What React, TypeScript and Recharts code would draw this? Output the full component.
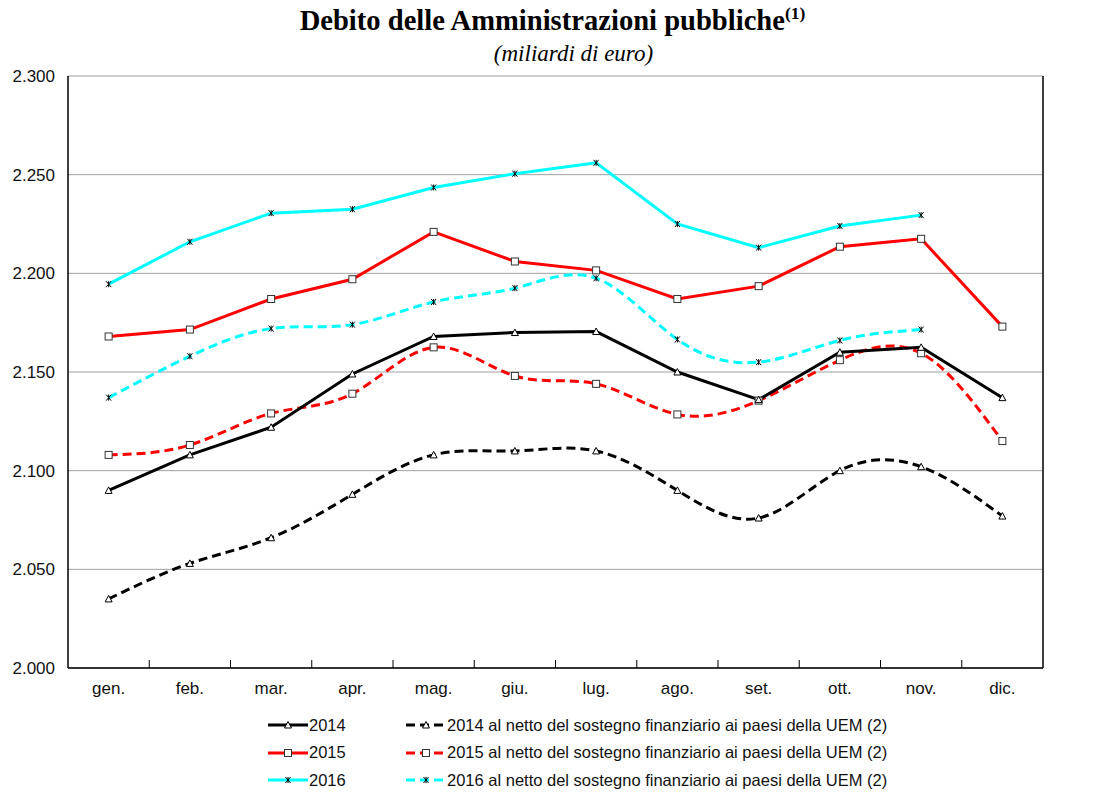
import React from 'react';
import { LineChart, Line, XAxis, YAxis, CartesianGrid } from 'recharts';

const months = ['gen.', 'feb.', 'mar.', 'apr.', 'mag.', 'giu.', 'lug.', 'ago.', 'set.', 'ott.', 'nov.', 'dic.'];

const debt2014 = [2090, 2108, 2122, 2149, 2168, 2170, 2170.5, 2150, 2136, 2160, 2162.5, 2137];
const net2014 = [2035, 2053, 2066, 2088, 2108, 2110, 2110, 2090, 2076, 2100, 2102, 2077];
const debt2015 = [2168, 2171.5, 2187, 2197, 2221, 2206, 2201.5, 2187, 2193.5, 2213.5, 2217.5, 2173];
const net2015 = [2108, 2113, 2129, 2139, 2162.5, 2148, 2144, 2128.5, 2135.5, 2156, 2159.5, 2115];
const debt2016 = [2194.5, 2216, 2230.5, 2232.5, 2243.5, 2250.5, 2256, 2225, 2213, 2224, 2229.5, null];
const net2016 = [2137, 2158, 2172, 2174, 2185.5, 2192.5, 2197.5, 2166.5, 2155, 2166, 2171.5, null];

const yTicks = [2000, 2050, 2100, 2150, 2200, 2250, 2300];

const data = months.map((m, i) => ({
  month: m,
  d2014: debt2014[i],
  n2014: net2014[i],
  d2015: debt2015[i],
  n2015: net2015[i],
  d2016: debt2016[i],
  n2016: net2016[i],
}));

const CHART_W = 1105;
const LEFT_W = 68;
const RIGHT_W = 62;
const TOP = 76;
const BOTTOM = 42;
const CHART_H = 710;
const BAND = (CHART_W - LEFT_W - RIGHT_W) / months.length;

const fmt = (v: number) => `${Math.floor(v / 1000)}.${String(v % 1000).padStart(3, '0')}`;

const Triangle = ({ cx, cy }: any) => {
  if (cx == null || cy == null) return null;
  return (
    <polygon
      points={`${cx},${cy - 3.5} ${cx + 3.5},${cy + 3} ${cx - 3.5},${cy + 3}`}
      fill="#fff"
      stroke="#000"
      strokeWidth={1}
    />
  );
};

const Square = ({ cx, cy }: any) => {
  if (cx == null || cy == null) return null;
  return <rect x={cx - 3.5} y={cy - 3.5} width={7} height={7} fill="#fff" stroke="#333" strokeWidth={1} />;
};

const Star = ({ cx, cy }: any) => {
  if (cx == null || cy == null) return null;
  return (
    <g stroke="#000" strokeWidth={1}>
      <line x1={cx - 2.5} y1={cy - 3} x2={cx + 2.5} y2={cy + 3} />
      <line x1={cx + 2.5} y1={cy - 3} x2={cx - 2.5} y2={cy + 3} />
      <line x1={cx} y1={cy - 3} x2={cx} y2={cy + 3} />
    </g>
  );
};

const MonthTick = (props: any) => {
  const { x, y, payload, index } = props;
  return (
    <g>
      {index > 0 && (
        <line x1={x - BAND / 2} x2={x - BAND / 2} y1={y} y2={y - 8} stroke="#000" strokeWidth={1} />
      )}
      <text x={x} y={y + 26} textAnchor="middle" fontSize={17} fill="#111" fontFamily="Liberation Sans, Arial, sans-serif">
        {payload.value}
      </text>
    </g>
  );
};

const legendItems = [
  { label: '2014', color: '#000', dashed: false, Mark: Triangle },
  { label: '2014 al netto del sostegno finanziario ai paesi della UEM (2)', color: '#000', dashed: true, Mark: Triangle },
  { label: '2015', color: '#ff0000', dashed: false, Mark: Square },
  { label: '2015 al netto del sostegno finanziario ai paesi della UEM (2)', color: '#ff0000', dashed: true, Mark: Square },
  { label: '2016', color: '#00ffff', dashed: false, Mark: Star },
  { label: '2016 al netto del sostegno finanziario ai paesi della UEM (2)', color: '#00ffff', dashed: true, Mark: Star },
];

const LegendEntry = ({ item, left, top }: any) => {
  const { Mark } = item;
  return (
    <div style={{ position: 'absolute', left, top, display: 'flex', alignItems: 'center', height: 20 }}>
      <svg width={40} height={12}>
        <line
          x1={0}
          x2={40}
          y1={6}
          y2={6}
          stroke={item.color}
          strokeWidth={3}
          strokeDasharray={item.dashed ? '9 5' : undefined}
        />
        <Mark cx={20} cy={6} />
      </svg>
      <span style={{ fontSize: 16.5, color: '#111', marginLeft: 1 }}>{item.label}</span>
    </div>
  );
};

export default function App() {
  return (
    <div
      style={{
        position: 'absolute',
        left: 0,
        top: 0,
        width: 1105,
        height: 796,
        background: '#fff',
        fontFamily: 'Liberation Sans, Arial, sans-serif',
      }}
    >
      <div
        style={{
          position: 'absolute',
          top: 4,
          width: '100%',
          textAlign: 'center',
          fontFamily: 'Liberation Serif, Times New Roman, serif',
          fontWeight: 'bold',
          fontSize: 28.6,
          lineHeight: '34px',
          color: '#000',
          paddingLeft: 0,
          boxSizing: 'border-box',
        }}
      >
        Debito delle Amministrazioni pubbliche<sup style={{ fontSize: 17.5, lineHeight: 0 }}>(1)</sup>
      </div>
      <div
        style={{
          position: 'absolute',
          top: 40,
          width: '100%',
          textAlign: 'center',
          fontFamily: 'Liberation Serif, Times New Roman, serif',
          fontStyle: 'italic',
          fontSize: 23,
          lineHeight: '28px',
          color: '#000',
          paddingLeft: 42,
          boxSizing: 'border-box',
        }}
      >
        (miliardi di euro)
      </div>
      <div style={{ position: 'absolute', left: 0, top: 0 }}>
        <LineChart width={CHART_W} height={CHART_H} data={data} margin={{ top: TOP, right: 0, bottom: 0, left: 0 }}>
          <CartesianGrid vertical={false} stroke="#a0a0a0" yAxisId="l" />
          <XAxis
            dataKey="month"
            height={BOTTOM}
            padding={{ left: BAND / 2, right: BAND / 2 }}
            tickLine={false}
            tickSize={0}
            tickMargin={0}
            tick={<MonthTick />}
            axisLine={{ stroke: '#000', strokeWidth: 1.5 }}
            interval={0}
          />
          <YAxis
            yAxisId="l"
            width={LEFT_W}
            domain={[2000, 2300]}
            ticks={yTicks}
            tickFormatter={fmt}
            tickLine={false}
            tickMargin={7}
            axisLine={{ stroke: '#000', strokeWidth: 1.5 }}
            tick={{ fontSize: 17, fill: '#111' }}
          />
          <YAxis
            yAxisId="r"
            orientation="right"
            width={RIGHT_W}
            domain={[2000, 2300]}
            ticks={yTicks}
            tickFormatter={fmt}
            tickLine={false}
            tickMargin={22}
            axisLine={{ stroke: '#000', strokeWidth: 1.5 }}
            tick={{ fontSize: 17, fill: '#111', textAnchor: 'start' }}
          />
          <Line yAxisId="l" type="natural" dataKey="n2014" stroke="#000" strokeWidth={3} strokeDasharray="9 5" dot={<Triangle />} isAnimationActive={false} />
          <Line yAxisId="l" type="natural" dataKey="n2015" stroke="#ff0000" strokeWidth={3} strokeDasharray="9 5" dot={<Square />} isAnimationActive={false} />
          <Line yAxisId="l" type="natural" dataKey="n2016" stroke="#00ffff" strokeWidth={3} strokeDasharray="9 5" dot={<Star />} isAnimationActive={false} />
          <Line yAxisId="l" type="linear" dataKey="d2014" stroke="#000" strokeWidth={3} dot={<Triangle />} isAnimationActive={false} />
          <Line yAxisId="l" type="linear" dataKey="d2015" stroke="#ff0000" strokeWidth={3} dot={<Square />} isAnimationActive={false} />
          <Line yAxisId="l" type="linear" dataKey="d2016" stroke="#00ffff" strokeWidth={3} dot={<Star />} isAnimationActive={false} />
        </LineChart>
      </div>
      {legendItems.map((item, i) => (
        <LegendEntry
          key={item.label}
          item={item}
          left={i % 2 === 0 ? 268 : 406}
          top={715 + Math.floor(i / 2) * 27.5}
        />
      ))}
    </div>
  );
}
